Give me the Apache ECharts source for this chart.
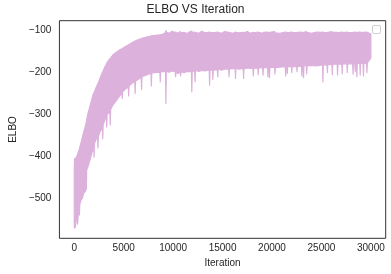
<!DOCTYPE html>
<html>
<head>
<meta charset="utf-8">
<script src="https://cdn.jsdelivr.net/npm/echarts@6/dist/echarts.min.js"></script>
<style>
html,body{margin:0;padding:0;background:#fff;}
#c{width:391px;height:274px;}
</style>
</head>
<body>
<div id="c"></div>
<script>
// Iteration positions at which the envelope of the noisy ELBO trace was read
const iterations = [
0,40,120,200,300,340,380,480,520,560,680,820,960,1100,1220,1260,1380,1500,1640,1780,1900,1960,2000,2040,2200,2360,2400,2440,2600,2760,2840,2880,2920,3100,3240,3280,3320,3500,3600,3640,3680,3900,4150,4400,4650,4810,4850,4890,5150,5460,5500,5540,5800,6120,6160,6200,6500,6770,6810,6850,7200,7500,7760,7800,7840,8200,8660,8700,8740,
9000,9230,9270,9310,9600,9900,10210,10250,10290,10500,10720,10760,10800,11100,11400,11700,11850,11890,11930,12180,12220,12260,12600,12900,13200,13500,13650,13690,13730,13980,14020,14060,14470,14510,14550,14900,15200,15610,15650,15690,16000,16270,16310,16350,16700,17090,17130,17170,17500,17800,18070,18110,18150,18560,18600,18640,19050,19090,19130,19550,19590,19630,19710,19750,19790,20260,20300,20340,20800,21340,21380,21420,21510,21550,21590,21960,22000,22040,22490,22530,22570,22980,23020,23060,23150,23190,23230,23470,23510,23550,24000,24500,24950,25110,25150,25190,25560,25600,25640,26060,26100,26140,26590,26630,26670,27060,27100,27140,27570,27610,27650,28160,28200,28240,28380,28420,28460,28550,28590,28630,28880,28920,28960,29210,29250,29290,29560,29600,29640,29999
];
// Upper edge of the ELBO trace
const elboUpper = [
-430,-405,-410,-402,-398,-395,-392,-385,-383,-378,-368,-355,-342,-330,-318,-312,-298,-288,-276,-264,-252,-250,-248,-246,-236,-228,-226,-224,-214,-204,-200,-198,-196,-186,-180,-178,-176,-170,-167,-166,-165,-158,-153,-149,-145,-143,-143,-142,-138,-134,-134,-133,-129,-125,-125,-124,-121,-119,-119,-118,-116,-114,-113,-112,-112,-111,-110,-110,-109,
-108,-104,-99,-103,-106,-101,-105,-103,-104,-106,-102,-103,-105,-104,-107,-102,-104,-100,-105,-103,-104,-104,-106,-101,-105,-104,-103,-104,-104,-105,-104,-105,-103,-104,-104,-106,-102,-104,-105,-104,-106,-104,-103,-104,-105,-104,-104,-105,-102,-106,-104,-104,-105,-103,-104,-104,-106,-104,-104,-103,-104,-104,-105,-104,-104,-102,-104,-105,-106,-103,-103,-104,-104,-104,-105,-103,-104,-104,-105,-104,-104,-103,-104,-104,-105,-104,-104,-102,-104,-104,-106,-103,-104,-103,-104,-104,-105,-104,-104,-102,-104,-104,-104,-104,-105,-103,-104,-104,-104,-103,-104,-105,-104,-104,-103,-104,-104,-104,-104,-104,-103,-104,-104,-104,-104,-104,-103,-104,-104,-108
];
// Lower edge of the ELBO trace (including downward spikes)
const elboLower = [
-565,-572,-568,-552,-548,-562,-545,-530,-540,-515,-505,-500,-488,-485,-478,-432,-425,-415,-405,-392,-382,-372,-402,-370,-360,-356,-380,-352,-342,-335,-332,-358,-325,-312,-305,-330,-300,-296,-292,-325,-288,-278,-270,-262,-254,-249,-262,-246,-240,-234,-256,-232,-226,-222,-250,-220,-216,-212,-240,-210,-207,-204,-202,-232,-201,-200,-199,-222,-198,
-198,-197,-274,-197,-199,-196,-198,-210,-199,-202,-199,-208,-198,-200,-197,-198,-197,-246,-197,-196,-222,-195,-197,-195,-196,-194,-195,-230,-195,-193,-216,-194,-193,-210,-192,-194,-192,-191,-210,-192,-190,-191,-214,-190,-192,-190,-214,-191,-189,-190,-189,-208,-190,-189,-205,-188,-189,-206,-188,-188,-210,-189,-188,-212,-188,-187,-203,-188,-187,-186,-208,-187,-186,-202,-186,-185,-200,-186,-185,-198,-185,-185,-208,-184,-185,-212,-184,-183,-203,-184,-183,-184,-182,-182,-222,-182,-181,-200,-181,-181,-205,-180,-180,-206,-180,-180,-203,-179,-179,-200,-179,-179,-204,-178,-178,-198,-178,-178,-210,-178,-178,-206,-178,-177,-208,-178,-178,-200,-177,-165
];
// Axis ticks
const xTicks = [0, 5000, 10000, 15000, 20000, 25000, 30000];
const yTicks = [-100, -200, -300, -400, -500];

const lineColor = '#dcb1dc';
const textColor = '#262626';
const fontFam = '"Liberation Sans", Arial, sans-serif';

const bandRows = iterations.map((t, i) => [t, elboUpper[i], elboLower[i]]);

const chart = echarts.init(document.getElementById('c'), null, {renderer: 'canvas'});
chart.setOption({
  animation: false,
  backgroundColor: '#fff',
  title: {
    text: 'ELBO VS Iteration',
    left: 'center', top: 4, padding: 0,
    textStyle: {fontFamily: fontFam, fontSize: 12, fontWeight: 'normal', color: textColor}
  },
  grid: {
    left: 50.3, right: 5.3, top: 20.7, bottom: 35.7,
    show: true, borderColor: '#333', borderWidth: 1, backgroundColor: 'transparent', z: 5
  },
  xAxis: {
    type: 'value', min: -1500, max: 31500, interval: 500,
    name: 'Iteration', nameLocation: 'middle', nameGap: 18,
    nameTextStyle: {fontFamily: fontFam, fontSize: 10, color: textColor},
    axisLine: {show: false}, axisTick: {show: false}, splitLine: {show: false},
    axisLabel: {
      margin: 5, fontFamily: fontFam, fontSize: 10, color: textColor,
      formatter: v => xTicks.indexOf(v) >= 0 ? String(v) : ''
    }
  },
  yAxis: {
    type: 'value', min: -596, max: -76, interval: 4,
    name: 'ELBO', nameLocation: 'middle', nameGap: 35,
    nameTextStyle: {fontFamily: fontFam, fontSize: 10, color: textColor},
    axisLine: {show: false}, axisTick: {show: false}, splitLine: {show: false},
    axisLabel: {
      margin: 8, fontFamily: fontFam, fontSize: 10, color: textColor,
      formatter: v => yTicks.indexOf(v) >= 0 ? String(v).replace('-', '\u2212') : ''
    }
  },
  graphic: [{
    type: 'rect', right: 10, top: 25,
    shape: {width: 8, height: 8, r: 1.5},
    style: {fill: '#fff', stroke: '#d0d0d0', lineWidth: 1}
  }],
  series: [{
    type: 'custom',
    data: bandRows,
    encode: {x: 0, y: [1, 2]},
    silent: true,
    renderItem: function (params, api) {
      if (params.dataIndex !== 0) return null;
      const top = iterations.map((t, i) => api.coord([t, elboUpper[i]]));
      const bottom = iterations.map((t, i) => api.coord([t, elboLower[i]])).reverse();
      return {
        type: 'polygon',
        shape: {points: top.concat(bottom)},
        style: {fill: lineColor, stroke: lineColor, lineWidth: 1.2, lineJoin: 'round'}
      };
    }
  }]
});
</script>
</body>
</html>
